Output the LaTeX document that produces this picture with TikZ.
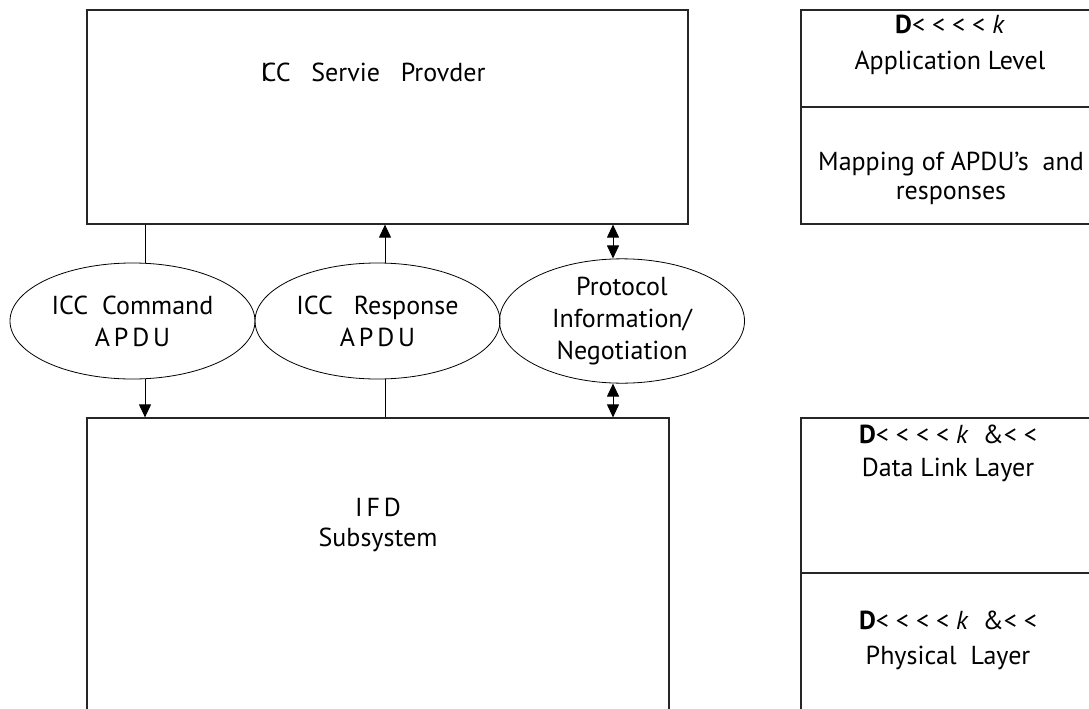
\documentclass[tikz,border=0pt]{standalone}
\usepackage{fontspec}
\setmainfont{PT Sans}
\usetikzlibrary{shapes.geometric,arrows.meta}
\begin{document}
\begin{tikzpicture}[x=1pt,y=-1pt,
  box/.style={draw=black!85, line width=1.2pt, inner sep=0pt},
  oval/.style={ellipse, draw, line width=0.8pt, inner sep=0pt, minimum width=245pt, minimum height=116pt, align=center, font=\fontsize{26}{32}\selectfont},
  txt/.style={align=center, inner sep=0pt},
  conn/.style={line width=1pt},
  tipdown/.style={conn, -{Triangle[length=13pt,width=12pt]}},
  tipboth/.style={conn, {Triangle[length=13pt,width=12pt]}-{Triangle[length=13pt,width=12pt]}}
]
\useasboundingbox (0,0) rectangle (1089,709);
% boxes
\node[box, minimum width=601pt, minimum height=214pt] (isp) at (387.5,117) {};
\node[box, minimum width=582pt, minimum height=342pt] (ifd) at (378,589) {};
\node[box, minimum width=300pt, minimum height=97pt] (rt1) at (951,58.5) {};
\node[box, minimum width=300pt, minimum height=117pt] (rt2) at (951,165.5) {};
\node[box, minimum width=300pt, minimum height=155pt] (rb1) at (951,495.5) {};
\node[box, minimum width=300pt, minimum height=187pt] (rb2) at (951,666.5) {};
% texts
\node[txt, font=\fontsize{26}{30}\selectfont] (ispt) at (373,72) {I\kern-0.25em CC\hspace{0.8em}Servie\hspace{0.8em}Provder};
\node[txt, font=\fontsize{26}{30}\selectfont] (ifdt) at (378,525) {{\addfontfeature{LetterSpace=15}IFD}\\Subsystem};
\node[txt, font=\fontsize{26}{36}\selectfont] (rt1t) at (950,45) {\textbf{D}< < < < \textit{k}\\Application Level};
\node[txt, font=\fontsize{26}{29}\selectfont] (rt2t) at (951,178) {Mapping of APDU’s\ \ and\\responses};
\node[txt, font=\fontsize{26}{33}\selectfont] (rb1t) at (948,453.5) {\textbf{D}< < < < \textit{k}\ \ \&< <\\Data Link Layer};
\node[txt, font=\fontsize{26}{35}\selectfont] (rb2t) at (948,640.5) {\textbf{D}< < < < \textit{k}\ \ \&< <\\Physical\ \ Layer};
% ellipses
\node[oval] (e1) at (132.5,321) {ICC\ \ Command\\{\addfontfeature{LetterSpace=15}APDU}};
\node[oval] (e2) at (377.5,321) {ICC\ \ \ Response\\{\addfontfeature{LetterSpace=15}APDU}};
\node[oval, font=\fontsize{26}{32}\selectfont] (e3) at (622,321) {Protocol\\Information/\\Negotiation};
% connector x positions
\coordinate (xa) at (145,0);
\coordinate (xb) at (385,0);
\coordinate (xc) at (613,0);
% connectors
\draw[conn] (isp.south -| xa) -- (e1.north -| xa);
\draw[tipdown] (e2.north -| xb) -- (isp.south -| xb);
\draw[tipboth] (isp.south -| xc) -- (e3.north -| xc);
\draw[tipdown] (e1.south -| xa) -- (ifd.north -| xa);
\draw[conn] (e2.south -| xb) -- (ifd.north -| xb);
\draw[tipboth] (e3.south -| xc) -- (ifd.north -| xc);
\end{tikzpicture}
\end{document}
